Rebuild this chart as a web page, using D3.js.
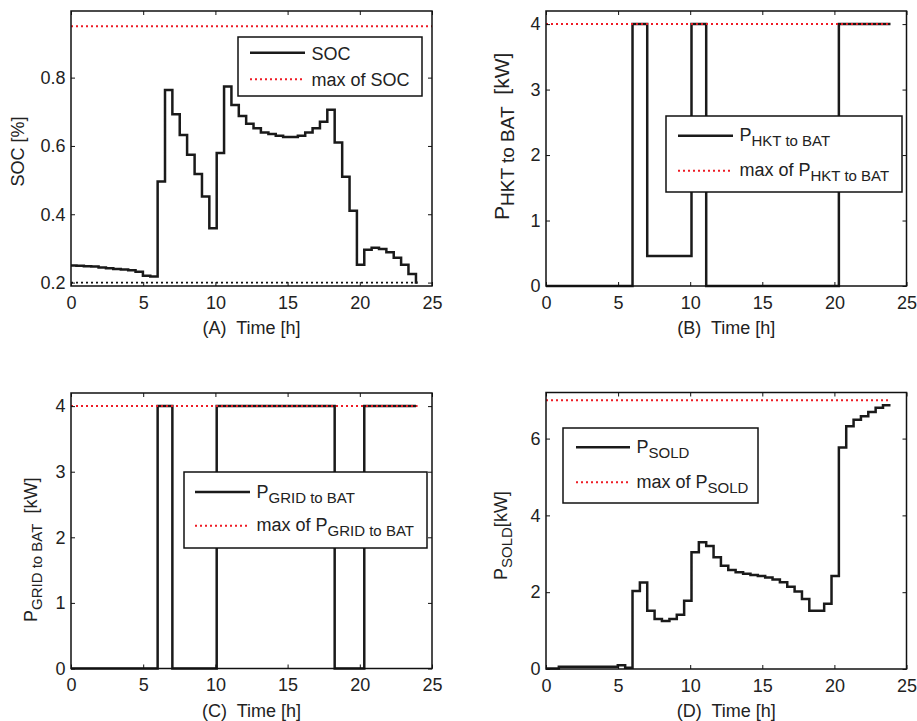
<!DOCTYPE html>
<html>
<head>
<meta charset="utf-8">
<script src="https://d3js.org/d3.v7.min.js"></script>
<style>
  body { margin: 0; background: #fff; }
  text { font-family: "Liberation Sans", Arial, sans-serif; fill: #222; white-space: pre; }
</style>
</head>
<body>
<svg id="chart" width="917" height="721"></svg>
<script>
// start time [h] of each half-hour-ish step
var stepStart = [0, 0.38, 0.89, 1.40, 1.91, 2.42, 2.93, 3.45, 3.96, 4.47, 4.98, 5.49,
  6.00, 6.51, 7.02, 7.53, 8.04, 8.56, 9.07, 9.58, 10.09, 10.60, 11.11, 11.62,
  12.13, 12.64, 13.15, 13.67, 14.18, 14.69, 15.20, 15.71, 16.22, 16.73, 17.24, 17.75,
  18.26, 18.78, 19.29, 19.80, 20.31, 20.82, 21.33, 21.84, 22.35, 22.86, 23.37, 23.89];

var socValues = [0.250, 0.249, 0.248, 0.247, 0.244, 0.242, 0.240, 0.238, 0.236, 0.232, 0.220, 0.218,
  0.496, 0.764, 0.693, 0.632, 0.574, 0.518, 0.452, 0.359, 0.579, 0.774, 0.720, 0.688,
  0.665, 0.652, 0.639, 0.635, 0.630, 0.626, 0.626, 0.630, 0.639, 0.652, 0.671, 0.706,
  0.610, 0.510, 0.410, 0.252, 0.296, 0.302, 0.298, 0.289, 0.273, 0.252, 0.225, 0.200];

var hktValues = [0, 0, 0, 0, 0, 0, 0, 0, 0, 0, 0, 0,
  4, 4, 0.46, 0.46, 0.46, 0.46, 0.46, 0.46, 4, 4, 0, 0,
  0, 0, 0, 0, 0, 0, 0, 0, 0, 0, 0, 0,
  0, 0, 0, 0, 4, 4, 4, 4, 4, 4, 4];

var gridValues = [0, 0, 0, 0, 0, 0, 0, 0, 0, 0, 0, 0,
  4, 4, 0, 0, 0, 0, 0, 0, 4, 4, 4, 4,
  4, 4, 4, 4, 4, 4, 4, 4, 4, 4, 4, 4,
  0, 0, 0, 0, 4, 4, 4, 4, 4, 4, 4];

var soldValues = [0.01, 0.01, 0.06, 0.06, 0.06, 0.06, 0.06, 0.06, 0.06, 0.06, 0.10, 0.03,
  2.03, 2.25, 1.52, 1.30, 1.25, 1.30, 1.41, 1.78, 3.04, 3.30, 3.20, 2.91,
  2.69, 2.58, 2.52, 2.48, 2.45, 2.42, 2.38, 2.33, 2.26, 2.14, 2.02, 1.82,
  1.52, 1.52, 1.70, 2.42, 5.77, 6.32, 6.49, 6.58, 6.69, 6.80, 6.87];

var socMax = 0.95, socMin = 0.2, hktMax = 4, gridMax = 4, soldMax = 7;
var xTicks = [0, 5, 10, 15, 20, 25];
var socTicks = [0.2, 0.4, 0.6, 0.8];
var kwTicks4 = [0, 1, 2, 3, 4];
var kwTicks7 = [0, 2, 4, 6];

var svg = d3.select("#chart");

var panels = [
  { box: [71, 11, 432, 286], yDomain: [0.19, 0.995], yTicks: socTicks, fmt: d3.format(".1f"),
    values: socValues, tEnd: 24, maxVal: socMax, maxEnd: 25, minVal: socMin, minEnd: 24,
    title: "(A)  Time [h]",
    ylab: { x: 24, y: 151.5, anchor: "middle", parts: [["SOC [%]"]] },
    legend: { box: [238, 37, 422, 96], line: [250, 305], rows: [52.7, 79.3],
      names: [[["SOC"]], [["max of SOC"]]] } },
  { box: [546, 11, 906.5, 286], yDomain: [0, 4.2], yTicks: kwTicks4, fmt: d3.format("d"),
    values: hktValues, tEnd: 23.89, maxVal: hktMax, maxEnd: 23.89,
    title: "(B)  Time [h]",
    ylab: { x: 509, y: 220, anchor: "start", size: 21, subSize: 19,
      parts: [["P"], ["HKT to BAT", "sub"], ["  [kW]"]] },
    legend: { box: [666, 116, 902, 192], line: [678, 733], rows: [135.7, 170.7],
      names: [[["P"], ["HKT to BAT", "sub"]], [["max of P"], ["HKT to BAT", "sub"]]] } },
  { box: [71, 393, 432, 668.5], yDomain: [0, 4.2], yTicks: kwTicks4, fmt: d3.format("d"),
    values: gridValues, tEnd: 23.89, maxVal: gridMax, maxEnd: 24,
    title: "(C)  Time [h]",
    ylab: { x: 36.5, y: 622, anchor: "start", parts: [["P"], ["GRID to BAT", "sub"], ["  [kW]"]] },
    legend: { box: [184, 472, 427, 548], line: [195, 250], rows: [492, 525.7],
      names: [[["P"], ["GRID to BAT", "sub"]], [["max of P"], ["GRID to BAT", "sub"]]] } },
  { box: [546, 392.5, 906.5, 669], yDomain: [0, 7.2], yTicks: kwTicks7, fmt: d3.format("d"),
    values: soldValues, tEnd: 23.89, maxVal: soldMax, maxEnd: 23.89,
    title: "(D)  Time [h]",
    ylab: { x: 507, y: 580, anchor: "start", parts: [["P"], ["SOLD", "sub"], ["[kW]"]] },
    legend: { box: [563, 428, 758, 503], line: [576, 630], rows: [447.3, 482.3],
      names: [[["P"], ["SOLD", "sub"]], [["max of P"], ["SOLD", "sub"]]] } }
];

// text with subscripts, parts = [[str, "sub"?], ...]
function richText(sel, parts, subSize) {
  var shifted = false;
  parts.forEach(function(p) {
    var t = sel.append("tspan").text(p[0]);
    if (p[1] === "sub") { t.attr("font-size", subSize || 15).attr("dy", 5); shifted = true; }
    else if (shifted) { t.attr("dy", -5); shifted = false; }
  });
}

panels.forEach(function(p) {
  var x = d3.scaleLinear().domain([0, 25]).range([p.box[0], p.box[2]]);
  var y = d3.scaleLinear().domain(p.yDomain).range([p.box[3], p.box[1]]);
  var g = svg.append("g");

  var line = d3.line()
      .x(function(d) { return x(d[0]); })
      .y(function(d) { return y(d[1]); })
      .curve(d3.curveStepAfter);

  var pts = p.values.map(function(v, i) { return [stepStart[i], v]; });
  pts.push([p.tEnd, p.values[p.values.length - 1]]);

  if (p.minVal !== undefined) {
    g.append("path")
        .attr("d", line([[0, p.minVal], [p.minEnd, p.minVal]]))
        .attr("fill", "none").attr("stroke", "#111").attr("stroke-width", 1.8)
        .attr("stroke-dasharray", "2,3");
  }

  g.append("path")
      .attr("d", line(pts))
      .attr("fill", "none").attr("stroke", "#1a1a1a").attr("stroke-width", 2.5);

  g.append("path")
      .attr("d", line([[0, p.maxVal], [p.maxEnd, p.maxVal]]))
      .attr("fill", "none").attr("stroke", "#ee1c25").attr("stroke-width", 2)
      .attr("stroke-dasharray", "2,3");

  // axes, ticks pointing inward on all four sides
  g.append("g").attr("transform", "translate(0," + p.box[3] + ")")
      .call(d3.axisBottom(x).tickValues(xTicks).tickSizeInner(-4).tickSizeOuter(0).tickPadding(10))
      .call(function(a) { a.select(".domain").remove(); });
  g.append("g").attr("transform", "translate(0," + p.box[1] + ")")
      .call(d3.axisTop(x).tickValues(xTicks).tickSizeInner(-4).tickSizeOuter(0).tickFormat(""))
      .call(function(a) { a.select(".domain").remove(); });
  g.append("g").attr("transform", "translate(" + p.box[0] + ",0)")
      .call(d3.axisLeft(y).tickValues(p.yTicks).tickFormat(p.fmt).tickSizeInner(-4).tickSizeOuter(0).tickPadding(5.5))
      .call(function(a) { a.select(".domain").remove(); });
  g.append("g").attr("transform", "translate(" + p.box[2] + ",0)")
      .call(d3.axisRight(y).tickValues(p.yTicks).tickSizeInner(-4).tickSizeOuter(0).tickFormat(""))
      .call(function(a) { a.select(".domain").remove(); });

  g.selectAll(".tick line").attr("stroke", "#111");
  g.selectAll(".tick text").attr("font-size", 18).attr("font-family", "Liberation Sans, Arial, sans-serif").attr("fill", "#222");

  g.append("rect")
      .attr("x", p.box[0]).attr("y", p.box[1])
      .attr("width", p.box[2] - p.box[0]).attr("height", p.box[3] - p.box[1])
      .attr("fill", "none").attr("stroke", "#111").attr("stroke-width", 1.5);

  g.append("text")
      .attr("x", (p.box[0] + p.box[2]) / 2).attr("y", p.box[3] + 48)
      .attr("text-anchor", "middle").attr("font-size", 18)
      .text(p.title);

  var yl = g.append("text")
      .attr("transform", "translate(" + p.ylab.x + "," + p.ylab.y + ") rotate(-90)")
      .attr("text-anchor", p.ylab.anchor).attr("font-size", p.ylab.size || 18);
  richText(yl, p.ylab.parts, p.ylab.subSize);

  // legend
  var L = p.legend;
  g.append("rect")
      .attr("x", L.box[0]).attr("y", L.box[1])
      .attr("width", L.box[2] - L.box[0]).attr("height", L.box[3] - L.box[1])
      .attr("fill", "#fff").attr("stroke", "#111").attr("stroke-width", 1.5);
  L.rows.forEach(function(ry, i) {
    var s = g.append("line")
        .attr("x1", L.line[0]).attr("x2", L.line[1]).attr("y1", ry).attr("y2", ry);
    if (i === 0) s.attr("stroke", "#1a1a1a").attr("stroke-width", 2.5);
    else s.attr("stroke", "#ee1c25").attr("stroke-width", 2).attr("stroke-dasharray", "2,3");
    var hasSub = L.names[i].length > 1;
    var t = g.append("text")
        .attr("x", L.line[1] + 6.5).attr("y", ry + (hasSub ? 5.5 : 7))
        .attr("font-size", 18);
    richText(t, L.names[i]);
  });
});
</script>
</body>
</html>
